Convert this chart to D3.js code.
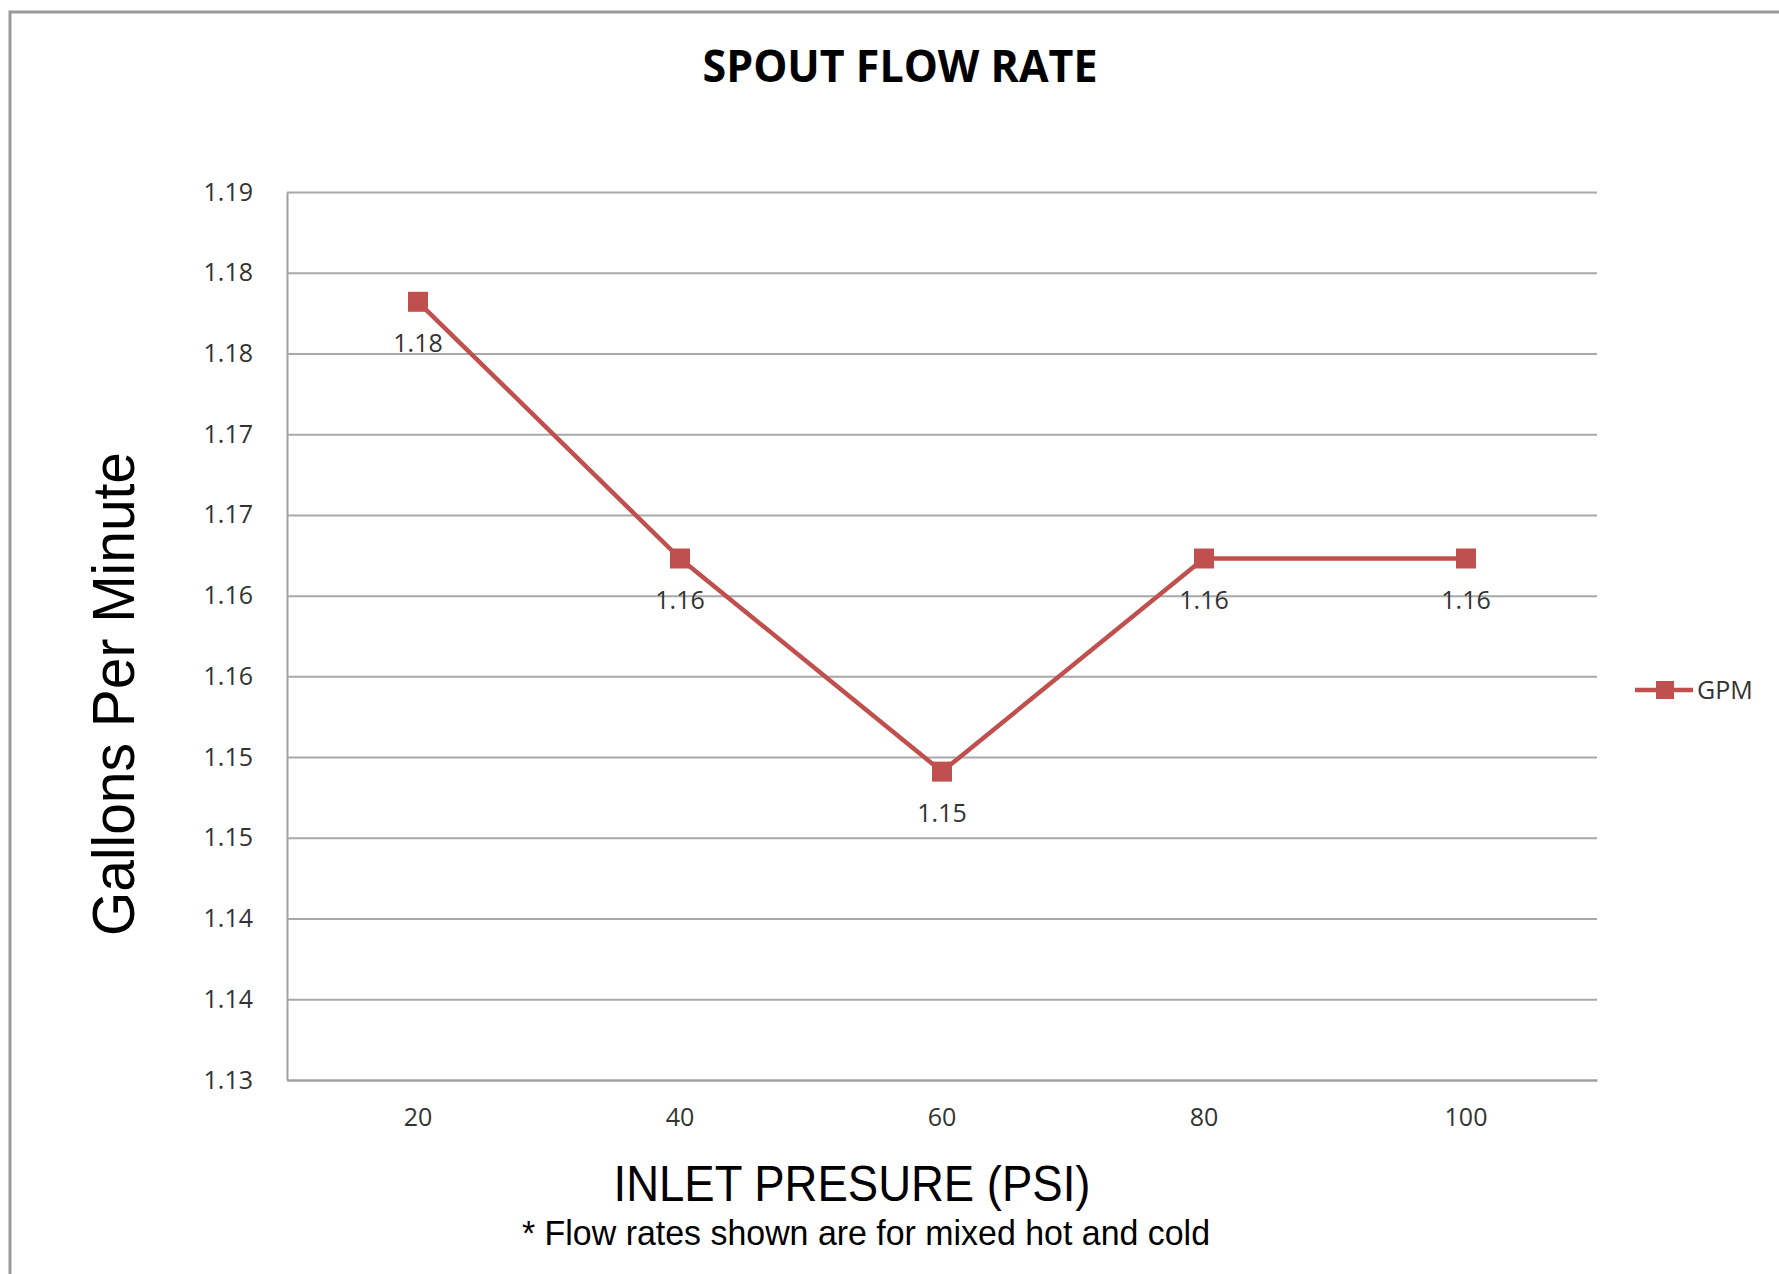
<!DOCTYPE html>
<html>
<head>
<meta charset="utf-8">
<script src="https://cdn.jsdelivr.net/npm/d3@7"></script>
<style>
  body { margin: 0; background: #fff; }
  svg { display: block; }
</style>
</head>
<body>
<svg id="chart"></svg>
<script>
  // chart data
  var categories = ["20", "40", "60", "80", "100"];
  var gpm = [1.1782, 1.1623, 1.1491, 1.1623, 1.1623];
  var dataLabels = ["1.18", "1.16", "1.15", "1.16", "1.16"];
  var yTicks = [1.13, 1.135, 1.14, 1.145, 1.15, 1.155, 1.16, 1.165, 1.17, 1.175, 1.18, 1.185];
  var yTickLabels = ["1.13", "1.14", "1.14", "1.15", "1.15", "1.16", "1.16", "1.17", "1.17", "1.18", "1.18", "1.19"];
  var seriesName = "GPM";

  var color = "#C0504D";
  var svgWidth = 1779, svgHeight = 1274;
  var margin = { top: 192, right: 182, bottom: 194, left: 287 };
  var width = svgWidth - margin.left - margin.right;
  var height = svgHeight - margin.top - margin.bottom;

  var svg = d3.select("#chart")
    .attr("width", svgWidth)
    .attr("height", svgHeight);

  svg.append("rect")
    .attr("width", svgWidth).attr("height", svgHeight)
    .attr("fill", "#fff");

  // outer chart border (only left and top edges visible)
  svg.append("rect")
    .attr("x", 10).attr("y", 12)
    .attr("width", svgWidth + 20).attr("height", svgHeight + 20)
    .attr("fill", "none")
    .attr("stroke", "#9a9a9a")
    .attr("stroke-width", 3);

  svg.append("text")
    .attr("x", 900).attr("y", 82)
    .attr("text-anchor", "middle")
    .attr("font-family", "'Open Sans', sans-serif")
    .attr("font-weight", "bold")
    .attr("font-size", 45)
    .attr("textLength", 395)
    .attr("lengthAdjust", "spacingAndGlyphs")
    .attr("fill", "#000")
    .text("SPOUT FLOW RATE");

  var g = svg.append("g")
    .attr("transform", "translate(" + margin.left + "," + margin.top + ")");

  var x = d3.scaleBand().domain(categories).range([0, width]).padding(0);
  var y = d3.scaleLinear().domain([1.13, 1.185]).range([height, 0]);

  var yAxis = d3.axisLeft(y)
    .tickValues(yTicks)
    .tickFormat(function(d, i) { return yTickLabels[i]; })
    .tickSizeInner(-width)
    .tickSizeOuter(0)
    .tickPadding(34);

  var yg = g.append("g").call(yAxis);
  yg.select(".domain").attr("stroke", "#a0a0a0").attr("stroke-width", 2);
  yg.selectAll(".tick line").attr("stroke", "#a8a8a8").attr("stroke-width", 2);
  yg.selectAll(".tick text")
    .attr("font-family", "'Open Sans', sans-serif")
    .attr("font-size", 25)
    .attr("fill", "#333");

  var xAxis = d3.axisBottom(x).tickSize(0).tickPadding(28);
  var xg = g.append("g")
    .attr("transform", "translate(0," + height + ")")
    .call(xAxis);
  xg.select(".domain").attr("stroke", "#a0a0a0").attr("stroke-width", 2);
  xg.selectAll(".tick text")
    .attr("font-family", "'Open Sans', sans-serif")
    .attr("font-size", 25)
    .attr("fill", "#333");

  var pts = categories.map(function(c, i) { return { cat: c, val: gpm[i], label: dataLabels[i] }; });
  var cx = function(d) { return x(d.cat) + x.bandwidth() / 2; };

  var line = d3.line()
    .x(cx)
    .y(function(d) { return y(d.val); });

  g.append("path")
    .datum(pts)
    .attr("fill", "none")
    .attr("stroke", color)
    .attr("stroke-width", 4.5)
    .attr("stroke-linejoin", "round")
    .attr("d", line);

  g.selectAll("rect.marker")
    .data(pts)
    .enter()
    .append("rect")
    .attr("class", "marker")
    .attr("x", function(d) { return cx(d) - 10; })
    .attr("y", function(d) { return y(d.val) - 10; })
    .attr("width", 20).attr("height", 20)
    .attr("fill", color);

  g.selectAll("text.dlabel")
    .data(pts)
    .enter()
    .append("text")
    .attr("class", "dlabel")
    .attr("x", cx)
    .attr("y", function(d) { return y(d.val) + 41; })
    .attr("dy", "0.36em")
    .attr("text-anchor", "middle")
    .attr("font-family", "'Open Sans', sans-serif")
    .attr("font-size", 25)
    .attr("fill", "#333")
    .text(function(d) { return d.label; });

  // legend
  var lg = svg.append("g").attr("transform", "translate(1635,690)");
  lg.append("line")
    .attr("x1", 0).attr("x2", 58)
    .attr("stroke", color).attr("stroke-width", 4.5);
  lg.append("rect")
    .attr("x", 21).attr("y", -9).attr("width", 18).attr("height", 18)
    .attr("fill", color);
  lg.append("text")
    .attr("x", 62).attr("dy", "0.36em")
    .attr("font-family", "'Open Sans', sans-serif")
    .attr("font-size", 25)
    .attr("fill", "#333")
    .text(seriesName);

  // axis titles
  svg.append("text")
    .attr("transform", "translate(134,694) rotate(-90)")
    .attr("text-anchor", "middle")
    .attr("font-family", "'Liberation Sans', Arial, sans-serif")
    .attr("font-size", 60)
    .attr("textLength", 484)
    .attr("lengthAdjust", "spacingAndGlyphs")
    .attr("fill", "#000")
    .text("Gallons Per Minute");

  svg.append("text")
    .attr("x", 852).attr("y", 1201)
    .attr("text-anchor", "middle")
    .attr("font-family", "'Liberation Sans', Arial, sans-serif")
    .attr("font-size", 50)
    .attr("textLength", 477)
    .attr("lengthAdjust", "spacingAndGlyphs")
    .attr("fill", "#000")
    .text("INLET PRESURE (PSI)");

  svg.append("text")
    .attr("x", 866).attr("y", 1245)
    .attr("text-anchor", "middle")
    .attr("font-family", "'Liberation Sans', Arial, sans-serif")
    .attr("font-size", 35)
    .attr("textLength", 688)
    .attr("lengthAdjust", "spacingAndGlyphs")
    .attr("fill", "#000")
    .text("* Flow rates shown are for mixed hot and cold");
</script>
</body>
</html>
